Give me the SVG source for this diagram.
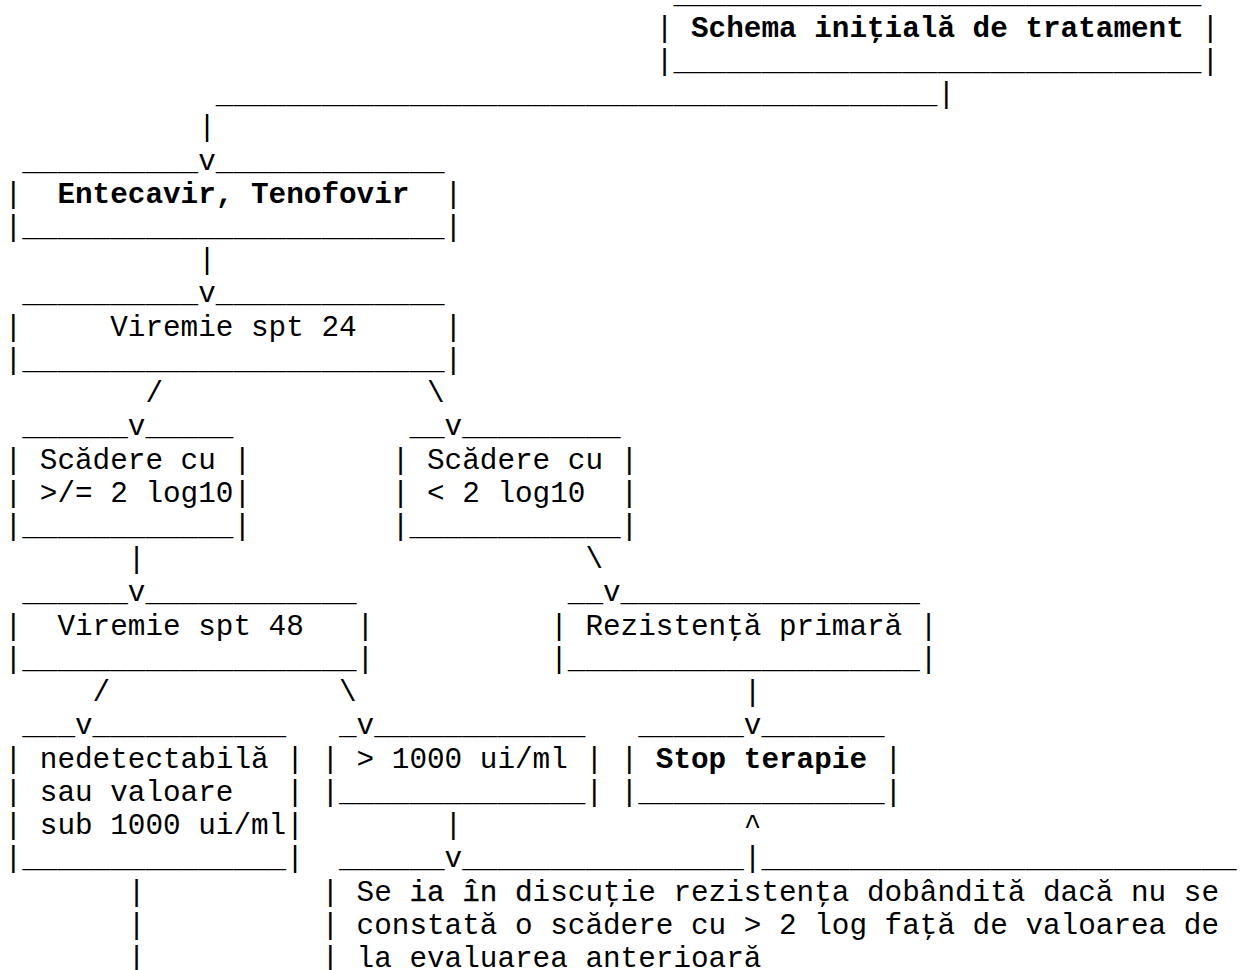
<svg xmlns="http://www.w3.org/2000/svg" width="1243" height="970" viewBox="0 0 1243 970">
  <style>
    text { font-family: "Liberation Mono", "Courier New", monospace; font-size: 29.33px; fill: #000; white-space: pre; }
    .b { font-weight: bold; }
    .dark { stroke: #000; stroke-width: 0.25px; }
  </style>
  <rect width="1243" height="970" fill="#fff"/>

  <!-- character grid: column c at x = 4.6 + 17.6*c, row r baseline at y = 3.3 + 33.23*r -->

  <g id="connectors">
    <text x="215.8" y="103.0">_________________________________________</text>
    <text x="937.4" y="103.0">|</text>
    <text x="198.2" y="136.2">|</text>
    <text x="198.2" y="169.5">v</text>
    <text x="198.2" y="269.1">|</text>
    <text x="198.2" y="302.4">v</text>
    <text x="145.4" y="402.1">/</text>
    <text x="427.0" y="402.1">\</text>
    <text x="127.8" y="435.3">v</text>
    <text x="444.6" y="435.3">v</text>
    <text x="127.8" y="568.2">|</text>
    <text x="585.4" y="568.2">\</text>
    <text x="127.8" y="601.4">v</text>
    <text x="603.0" y="601.4">v</text>
    <text x="92.6" y="701.1">/</text>
    <text x="339.0" y="701.1">\</text>
    <text x="743.8" y="701.1">|</text>
    <text x="75.0" y="734.4">v</text>
    <text x="356.6" y="734.4">v</text>
    <text x="743.8" y="734.4">v</text>
    <text x="444.6" y="834.1">|</text>
    <text x="743.8" y="834.1">^</text>
    <text x="444.6" y="867.3">v</text>
    <text x="743.8" y="867.3">|</text>
    <text x="127.8" y="900.5">|</text>
    <text x="127.8" y="933.7">|</text>
    <text x="127.8" y="967.0">|</text>
  </g>

  <g id="schema-initiala">
    <text x="673.4" y="3.3">______________________________</text>
    <text x="655.8" y="36.5">|</text>
    <text class="b" x="691.0" y="36.5">Schema iniţială de tratament</text>
    <text x="1201.4" y="36.5">|</text>
    <text x="655.8" y="69.8">|______________________________|</text>
  </g>

  <g id="entecavir-tenofovir">
    <text x="22.2" y="169.5">__________</text>
    <text x="215.8" y="169.5">_____________</text>
    <text x="4.6" y="202.7">|</text>
    <text class="b" x="57.4" y="202.7">Entecavir, Tenofovir</text>
    <text x="444.6" y="202.7">|</text>
    <text x="4.6" y="235.9">|________________________|</text>
  </g>

  <g id="viremie-spt-24">
    <text x="22.2" y="302.4">__________</text>
    <text x="215.8" y="302.4">_____________</text>
    <text x="4.6" y="335.6">|</text>
    <text x="110.2" y="335.6">Viremie spt 24</text>
    <text x="444.6" y="335.6">|</text>
    <text x="4.6" y="368.8">|________________________|</text>
  </g>

  <g id="scadere-peste-2log">
    <text x="22.2" y="435.3">______</text>
    <text x="145.4" y="435.3">_____</text>
    <text x="4.6" y="468.5">|</text>
    <text x="39.8" y="468.5">Scădere cu</text>
    <text x="233.4" y="468.5">|</text>
    <text x="4.6" y="501.8">|</text>
    <text x="39.8" y="501.8">&gt;/= 2 log10</text>
    <text x="233.4" y="501.8">|</text>
    <text x="4.6" y="535.0">|____________|</text>
  </g>

  <g id="scadere-sub-2log">
    <text x="409.4" y="435.3">__</text>
    <text x="462.2" y="435.3">_________</text>
    <text x="391.8" y="468.5">|</text>
    <text x="427.0" y="468.5">Scădere cu</text>
    <text x="620.6" y="468.5">|</text>
    <text x="391.8" y="501.8">|</text>
    <text x="427.0" y="501.8">&lt; 2 log10</text>
    <text x="620.6" y="501.8">|</text>
    <text x="391.8" y="535.0">|____________|</text>
  </g>

  <g id="viremie-spt-48">
    <text x="22.2" y="601.4">______</text>
    <text x="145.4" y="601.4">____________</text>
    <text x="4.6" y="634.7">|</text>
    <text x="57.4" y="634.7">Viremie spt 48</text>
    <text x="356.6" y="634.7">|</text>
    <text x="4.6" y="667.9">|___________________|</text>
  </g>

  <g id="rezistenta-primara">
    <text x="567.8" y="601.4">__</text>
    <text x="620.6" y="601.4">_________________</text>
    <text x="550.2" y="634.7">|</text>
    <text x="585.4" y="634.7">Rezistenţă primară</text>
    <text x="919.8" y="634.7">|</text>
    <text x="550.2" y="667.9">|____________________|</text>
  </g>

  <g id="nedetectabila">
    <text x="22.2" y="734.4">___</text>
    <text x="92.6" y="734.4">___________</text>
    <text x="4.6" y="767.6">|</text>
    <text x="39.8" y="767.6">nedetectabilă</text>
    <text x="286.2" y="767.6">|</text>
    <text x="4.6" y="800.8">|</text>
    <text x="39.8" y="800.8">sau valoare</text>
    <text x="286.2" y="800.8">|</text>
    <text x="4.6" y="834.1">|</text>
    <text x="39.8" y="834.1">sub 1000 ui/ml</text>
    <text x="286.2" y="834.1">|</text>
    <text x="4.6" y="867.3">|_______________|</text>
  </g>

  <g id="peste-1000">
    <text x="339.0" y="734.4">_</text>
    <text x="374.2" y="734.4">____________</text>
    <text x="321.4" y="767.6">|</text>
    <text x="356.6" y="767.6">&gt; 1000 ui/ml</text>
    <text x="585.4" y="767.6">|</text>
    <text x="321.4" y="800.8">|______________|</text>
  </g>

  <g id="stop-terapie">
    <text x="638.2" y="734.4">______</text>
    <text x="761.4" y="734.4">_______</text>
    <text x="620.6" y="767.6">|</text>
    <text class="b" x="655.8" y="767.6">Stop terapie</text>
    <text x="884.6" y="767.6">|</text>
    <text x="620.6" y="800.8">|______________|</text>
  </g>

  <g id="rezistenta-dobandita">
    <text x="339.0" y="867.3">______</text>
    <text x="462.2" y="867.3">________________</text>
    <text x="761.4" y="867.3">___________________________</text>
    <text x="321.4" y="900.5">|</text>
    <text x="356.6" y="900.5">Se <tspan class="dark">ia în d</tspan>iscuţie rezistenţa dobândită dacă nu se</text>
    <text x="321.4" y="933.7">|</text>
    <text x="356.6" y="933.7">constată o scădere cu &gt; 2 log faţă de valoarea de</text>
    <text x="321.4" y="967.0">|</text>
    <text x="356.6" y="967.0">la evaluarea anterioară</text>
  </g>
</svg>
